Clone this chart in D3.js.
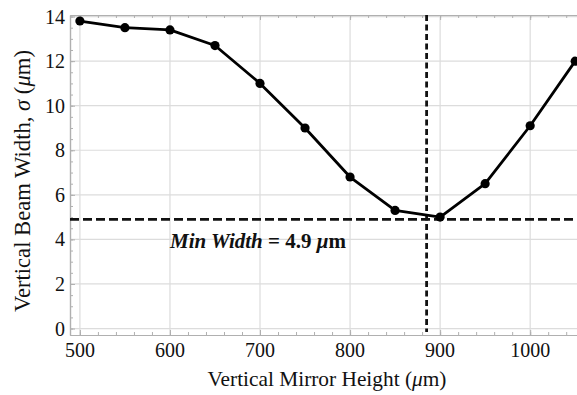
<!DOCTYPE html>
<html><head><meta charset="utf-8">
<script src="https://cdn.jsdelivr.net/npm/d3@7"></script>
<style>body{margin:0;background:#fff}svg{display:block}</style>
</head><body>
<svg id="c" width="577" height="395"></svg>
<script>
const heights = [500,550,600,650,700,750,800,850,900,950,1000,1050];
const widths = [13.8,13.5,13.4,12.7,11.0,9.0,6.8,5.3,5.0,6.5,9.1,12.0];
const xTicks = [500,600,700,800,900,1000];
const yTicks = [0,2,4,6,8,10,12,14];
const minWidth = 4.9;
const minHeight = 885;

const FONT = "'Liberation Serif', 'Times New Roman', Times, serif";
const svg = d3.select("#c");
const L=70, R=577, T=15, B=335;
const x = d3.scaleLinear().domain([489,1052]).range([L,R]);
const y = d3.scaleLinear().domain([-0.29,14.07]).range([B,T]);

const g = svg.append("g");
g.selectAll(".gx").data(xTicks).join("line")
 .attr("x1",d=>x(d)).attr("x2",d=>x(d)).attr("y1",T).attr("y2",B)
 .attr("stroke","#dcdcdc").attr("stroke-width",1.2);
g.selectAll(".gy").data(yTicks).join("line")
 .attr("x1",L).attr("x2",R).attr("y1",d=>y(d)).attr("y2",d=>y(d))
 .attr("stroke","#dcdcdc").attr("stroke-width",1.2);

const xMinor = d3.range(500,1051,20);
const yMinor = d3.range(0,14.01,0.5);
const frameCol = "#b0b0b0";
function styleAxis(sel){ sel.select(".domain").attr("stroke",frameCol).attr("stroke-width",1.2);
  sel.selectAll(".tick line").attr("stroke",frameCol).attr("stroke-width",1); sel.selectAll("text").remove(); }
svg.append("g").attr("transform",`translate(0,${B})`)
 .call(d3.axisBottom(x).tickValues(xMinor).tickSize(-3).tickSizeOuter(0)).call(styleAxis);
svg.append("g").attr("transform",`translate(0,${T})`)
 .call(d3.axisTop(x).tickValues(xMinor).tickSize(-3).tickSizeOuter(0)).call(styleAxis);
svg.append("g").attr("transform",`translate(${L},0)`)
 .call(d3.axisLeft(y).tickValues(yMinor).tickSize(-3).tickSizeOuter(0)).call(styleAxis);
svg.append("g").attr("transform",`translate(0,${B})`)
 .call(d3.axisBottom(x).tickValues(xTicks).tickSize(-5).tickSizeOuter(0)).call(styleAxis);
svg.append("g").attr("transform",`translate(0,${T})`)
 .call(d3.axisTop(x).tickValues(xTicks).tickSize(-5).tickSizeOuter(0)).call(styleAxis);
svg.append("g").attr("transform",`translate(${L},0)`)
 .call(d3.axisLeft(y).tickValues(yTicks).tickSize(-5).tickSizeOuter(0)).call(styleAxis);

svg.selectAll(".xl").data(xTicks).join("text")
 .attr("x",d=>x(d)).attr("y",357).attr("text-anchor","middle").attr("font-family",FONT)
 .attr("font-size",20).attr("fill","#111").text(d=>d);
svg.selectAll(".yl").data(yTicks).join("text")
 .attr("x",65).attr("y",d=>y(d)+7).attr("text-anchor","end").attr("font-family",FONT)
 .attr("font-size",20).attr("fill","#111").text(d=>d);

svg.append("line").attr("x1",L).attr("x2",R).attr("y1",y(minWidth)).attr("y2",y(minWidth))
 .attr("stroke","#111").attr("stroke-width",2.8).attr("stroke-dasharray","9,4");
svg.append("line").attr("x1",x(minHeight)).attr("x2",x(minHeight)).attr("y1",T).attr("y2",B-3)
 .attr("stroke","#111").attr("stroke-width",2.8).attr("stroke-dasharray","6,3.5");

const pts = heights.map((h,i)=>[h,widths[i]]);
svg.append("path").datum(pts)
 .attr("d",d3.line().x(d=>x(d[0])).y(d=>y(d[1])))
 .attr("fill","none").attr("stroke","#000").attr("stroke-width",2.8).attr("stroke-linejoin","round");
svg.selectAll(".pt").data(pts).join("circle")
 .attr("cx",d=>x(d[0])).attr("cy",d=>y(d[1])).attr("r",4.6).attr("fill","#000");

function fit(sel, target){ const w = sel.node().getComputedTextLength(); const fs = +sel.attr("font-size");
  sel.attr("font-size", (fs*target/w).toFixed(2)); }

const ann = svg.append("text").attr("x",170).attr("y",248).attr("font-family",FONT).attr("font-size",21).attr("font-weight","bold").attr("fill","#111");
ann.append("tspan").attr("font-style","italic").text("Min Width");
ann.append("tspan").text(" = 4.9 ");
ann.append("tspan").attr("font-style","italic").text("μ");
ann.append("tspan").text("m");

const xt = svg.append("text").attr("x",327).attr("y",386).attr("text-anchor","middle").attr("font-family",FONT).attr("font-size",20).attr("fill","#111");
xt.append("tspan").text("Vertical Mirror Height (");
xt.append("tspan").attr("font-style","italic").text("μ");
xt.append("tspan").text("m)");
fit(xt, 239);

const yt = svg.append("text").attr("transform","translate(30,181) rotate(-90)").attr("text-anchor","middle").attr("font-family",FONT).attr("font-size",20).attr("fill","#111");
yt.append("tspan").text("Vertical Beam Width, ");
yt.append("tspan").attr("font-style","italic").text("σ");
yt.append("tspan").text(" (");
yt.append("tspan").attr("font-style","italic").text("μ");
yt.append("tspan").text("m)");
fit(yt, 262);
</script>
</body></html>
